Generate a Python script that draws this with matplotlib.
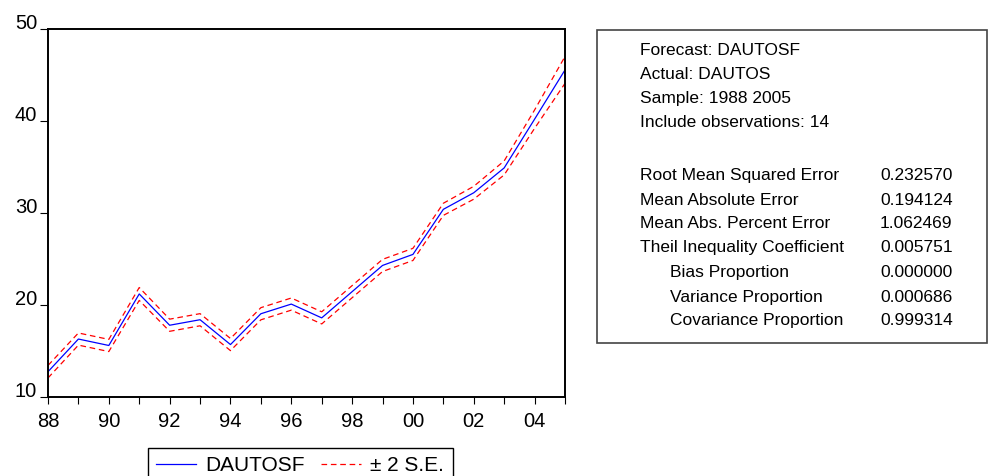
import matplotlib
matplotlib.use("Agg")
import matplotlib.pyplot as plt
from matplotlib.patches import Rectangle

plt.rcParams['font.family'] = ['Liberation Sans', 'DejaVu Sans']

# === Data ===
years = list(range(1988, 2006))
dautosf = [12.75, 16.3, 15.6, 21.2, 17.8, 18.4, 15.7, 19.05, 20.1, 18.6,
           21.45, 24.3, 25.5, 30.4, 32.2, 34.9, 40.2, 45.55]
se = [0.34, 0.33, 0.33, 0.35, 0.33, 0.33, 0.33, 0.33, 0.33, 0.33,
      0.33, 0.33, 0.33, 0.33, 0.35, 0.38, 0.5, 0.73]
ytick_vals = [10, 20, 30, 40, 50]

stats_head = ["Forecast: DAUTOSF", "Actual: DAUTOS", "Sample: 1988 2005",
              "Include observations: 14"]
stats_names = ["Root Mean Squared Error", "Mean Absolute Error",
               "Mean Abs. Percent Error", "Theil Inequality Coefficient",
               "Bias Proportion", "Variance Proportion", "Covariance Proportion"]
stats_vals = ["0.232570", "0.194124", "1.062469", "0.005751",
              "0.000000", "0.000686", "0.999314"]

W, H = 988, 476


def fx(x):
    return x / W


def fy(y):
    return 1 - y / H


fig = plt.figure(figsize=(W / 100, H / 100), dpi=100)
ax = fig.add_axes([fx(48), fy(397), (565 - 48) / W, (397 - 29) / H])

upper = [f + 2 * s for f, s in zip(dautosf, se)]
lower = [f - 2 * s for f, s in zip(dautosf, se)]

ax.plot(years, dautosf, color='#0000FF', lw=0.9, label='DAUTOSF')
ax.plot(years, upper, color='#FF0000', lw=0.9, ls=(0, (4.5, 3)), label='± 2 S.E.')
ax.plot(years, lower, color='#FF0000', lw=0.9, ls=(0, (4.5, 3)), label='_nolegend_')

ax.set_xlim(1988, 2005)
ax.set_ylim(10, 50)
ax.set_xticks(years)
ax.set_xticklabels([f"{y % 100:02d}" if (y - 1988) % 2 == 0 else "" for y in years])
ax.set_yticks(ytick_vals)
ax.set_yticklabels([str(v) for v in ytick_vals])
for lab in ax.get_yticklabels():
    lab.set_verticalalignment('baseline')

ax.tick_params(axis='x', direction='out', length=5, width=0.8, pad=5.5,
               labelsize=14.5)
ax.tick_params(axis='y', direction='out', length=5.8, width=0.8, pad=2,
               labelsize=14.5)
for sp in ax.spines.values():
    sp.set_linewidth(1.4)
    sp.set_color('black')

# === Legend (bottom edge runs off the canvas) ===
leg = fig.legend(loc='upper left', bbox_to_anchor=(fx(148), fy(448)), ncol=2,
                 fontsize=15, frameon=True, fancybox=False, edgecolor='black',
                 framealpha=1, borderpad=0.4, handlelength=1.9,
                 handletextpad=0.45, columnspacing=0.8, borderaxespad=0)
leg.get_frame().set_linewidth(1.0)

# === Statistics box ===
fig.add_artist(Rectangle((fx(597), fy(343)), (987 - 597) / W, (343 - 30) / H,
                         transform=fig.transFigure, fill=False,
                         edgecolor='#444444', lw=1.2))

head_y = [55, 79, 103, 127]
for txt, y in zip(stats_head, head_y):
    fig.text(fx(640), fy(y), txt, fontsize=12.5, va='baseline', ha='left')

row_y = [180, 205, 228, 252, 277, 302, 325]
for i, (name, val, y) in enumerate(zip(stats_names, stats_vals, row_y)):
    x0 = 670 if i >= 4 else 640
    fig.text(fx(x0), fy(y), name, fontsize=12.5, va='baseline', ha='left')
    fig.text(fx(880), fy(y), val, fontsize=12.5, va='baseline', ha='left')

fig.savefig("out.png", dpi=100)
